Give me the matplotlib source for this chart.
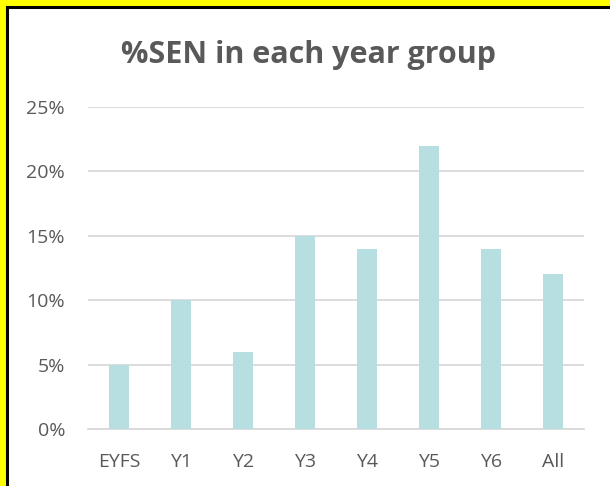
import numpy as np
import matplotlib.pyplot as plt
from matplotlib.patches import Rectangle
from matplotlib.ticker import FuncFormatter

groups = ['EYFS', 'Y1', 'Y2', 'Y3', 'Y4', 'Y5', 'Y6', 'All']
sen_pct = [5, 10, 6, 15, 14, 22, 14, 12]
y_ticks = [0, 5, 10, 15, 20, 25]

plt.rcParams['font.family'] = ['Open Sans', 'DejaVu Sans']

W, H = 610, 486
fig = plt.figure(figsize=(W / 100, H / 100), dpi=100, facecolor='#FFFF00')

# white chart area, black frame on left/top, yellow showing outside it
frame = Rectangle((6.5 / W, -0.1), 1.2, (H - 6.5) / H + 0.1,
                  transform=fig.transFigure, facecolor='white',
                  edgecolor='black', linewidth=2.2, zorder=-5)
fig.patches.append(frame)

ax = fig.add_axes([88 / W, 1 - 429 / H, (584 - 88) / W, (429 - 107) / H])
ax.set_zorder(2)
ax.set_facecolor('white')
x = np.arange(len(groups))
ax.bar(x, sen_pct, width=0.31, color='#B7DFE2', zorder=3)
ax.set_xlim(-0.5, len(groups) - 0.5)
ax.set_ylim(0, 25)
ax.set_yticks(y_ticks)
ax.yaxis.set_major_formatter(FuncFormatter(lambda v, p: f'{int(v)}%'))
ax.set_xticks(x)
ax.set_xticklabels(groups)
ax.grid(axis='y', color='#D9D9D9', linewidth=1.3, zorder=0)
for s in ['left', 'right', 'top']:
    ax.spines[s].set_visible(False)
ax.spines['bottom'].set_color('#D9D9D9')
ax.spines['bottom'].set_linewidth(1.3)
ax.tick_params(axis='both', length=0, labelsize=14, colors='#595959')
ax.tick_params(axis='y', pad=16.5)
ax.tick_params(axis='x', pad=17)

t = fig.text(308 / W, 1 - 55 / H, '%SEN in each year group', ha='center', va='center',
             fontsize=22, fontweight='bold', color='#595959')
t.set_zorder(3)

fig.savefig('out.png', dpi=100, facecolor=fig.get_facecolor())
